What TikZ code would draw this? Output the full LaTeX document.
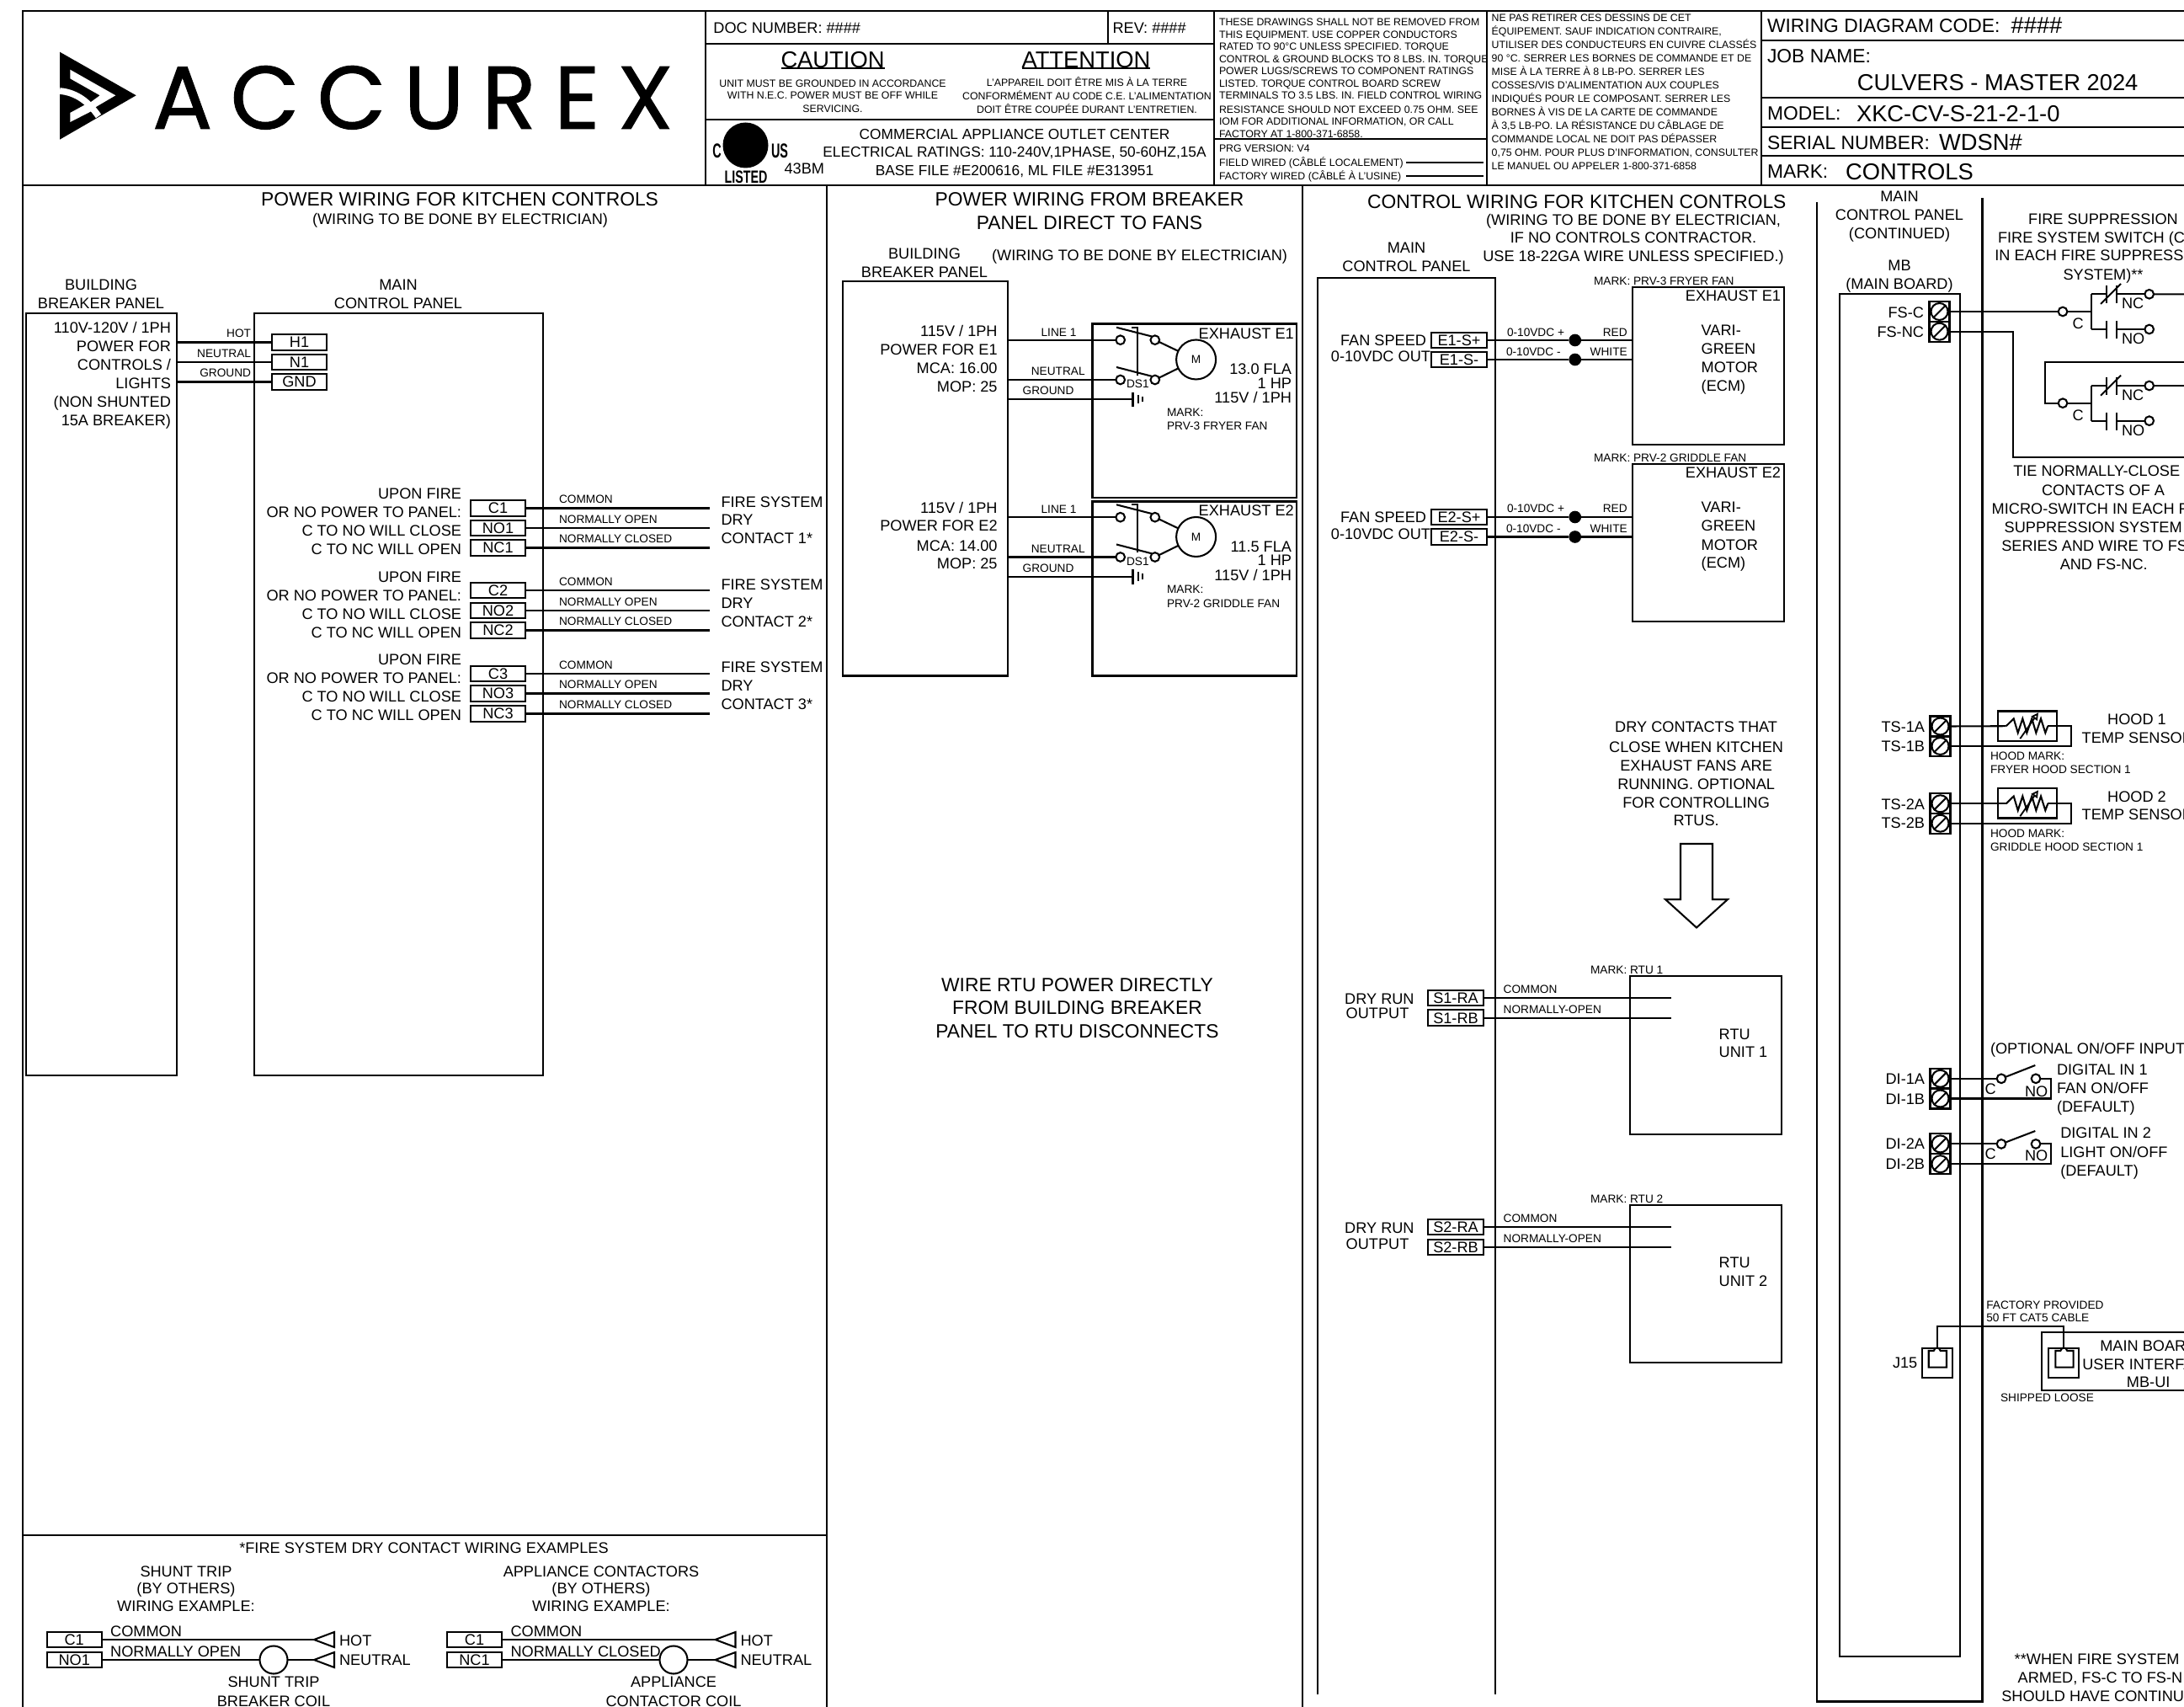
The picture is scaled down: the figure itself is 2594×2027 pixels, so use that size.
\documentclass[tikz,border=0pt]{standalone}
\usepackage{fontspec}
\setmainfont{Liberation Sans}
\newfontfamily\logofont{Poppins}[LetterSpace=20,FakeBold=0.9]
\usetikzlibrary{arrows.meta,calc}
\newcounter{tc}
\tikzset{
  base/.style={inner sep=0pt,outer sep=0pt},
  sz12/.style={base,font=\fontsize{3.7}{4}\selectfont,text height=2.65pt,text depth=0pt},
  sz13/.style={base,font=\fontsize{4.1}{5}\selectfont,text height=2.93pt,text depth=0pt},
  sz17/.style={base,font=\fontsize{5.2}{6}\selectfont,text height=3.75pt,text depth=0pt},
  sz18/.style={base,font=\fontsize{5.45}{6}\selectfont,text height=3.9pt,text depth=0pt},
  sz23/.style={base,font=\fontsize{6.85}{8}\selectfont,text height=4.9pt,text depth=0pt},
  sz27/.style={base,font=\fontsize{8.2}{9}\selectfont,text height=5.87pt,text depth=0pt},
  wire/.style={line width=0.62pt,line cap=butt},
  frame/.style={line width=0.78pt},
  boxst/.style={draw,line width=0.62pt,inner sep=0pt,outer sep=0pt},
  termbox/.style={sz18,draw,line width=0.62pt,minimum height=5.6pt},
  pin/.style={draw,circle,fill=white,line width=0.62pt,minimum size=3.2pt,inner sep=0pt,outer sep=0pt},
  dot/.style={fill=black,circle,minimum size=4.4pt,inner sep=0pt,outer sep=0pt},
  motor/.style={sz13,draw,circle,line width=0.62pt,minimum size=14.1pt},
  coil/.style={draw,circle,line width=0.62pt,minimum size=9.9pt,inner sep=0pt,outer sep=0pt},
  screw/.style={draw,line width=0.62pt,minimum size=7.2pt,inner sep=0pt,outer sep=0pt},
  logo/.style={inner sep=0pt,outer sep=0pt,font=\logofont\fontsize{31.8}{32}\selectfont,text height=22.2pt,text depth=0pt},
}
\newcommand\TC[4]{\stepcounter{tc}\node[sz#1,anchor=center] (t\arabic{tc}) at (#2,#3) {#4};}
\newcommand\TL[4]{\stepcounter{tc}\node[sz#1,anchor=west] (t\arabic{tc}) at (#2,#3) {#4};}
\newcommand\TR[4]{\stepcounter{tc}\node[sz#1,anchor=east] (t\arabic{tc}) at (#2,#3) {#4};}
\newcommand\Bx[5]{\pgfmathsetmacro\bw{(#4-#2)*0.3}\pgfmathsetmacro\bh{(#5-#3)*0.3}%
  \node[boxst,minimum width=\bw pt,minimum height=\bh pt] (#1) at ({(#2+#4)/2},{(#3+#5)/2}) {};}
\newcommand\Term[5]{\pgfmathsetmacro\bw{#4*0.3}\node[termbox,minimum width=\bw pt] (#1) at (#2,#3) {#5};}
\newcommand\Screw[3]{\node[screw] (#1) at (#2,#3) {};
  \draw[line width=0.62pt] (#1.center) circle [radius=3pt];
  \draw[line width=0.62pt] ([xshift=-2.3pt,yshift=-2.3pt]#1.center) -- ([xshift=2.3pt,yshift=2.3pt]#1.center);}
% contact block : prefix, y of C pin
\newcommand\Contact[2]{\begin{scope}[shift={(0,#2)}]
  \node[pin] (#1c) at (2450,0) {};
  \node[pin] (#1nc) at (2552.7,-20.7) {};
  \node[pin] (#1no) at (2552.7,21) {};
  \coordinate (#1f) at (2484,0);
  \draw[wire] (#1c) -- (#1f);
  \draw[wire] (2484,-20.7) -- (2484,21);
  \draw[wire] (2484,-20.7) -- (2501.7,-20.7) (2501.7,-31) -- (2501.7,-10);
  \draw[wire] (2514,-31) -- (2514,-10) (2514,-20.7) -- (#1nc);
  \draw[wire] (2495,-9) -- (2519,-33);
  \draw[wire] (2484,21) -- (2501.7,21) (2501.7,11) -- (2501.7,32);
  \draw[wire] (2514,11) -- (2514,32) (2514,21) -- (#1no);
  \TL{18}{2520}{-10}{NC}
  \TL{18}{2520}{32}{NO}
  \TL{18}{2461.7}{14}{C}
 \end{scope}}
% fan disconnect group
\newcommand\FanGroup[2]{\begin{scope}[shift={(0,#2)}]
  \node[pin] (#1a) at (1330.7,403.7) {};
  \node[pin] (#1b) at (1371.8,403.7) {};
  \node[pin] (#1c) at (1330.7,451) {};
  \node[pin] (#1d) at (1371.8,451) {};
  \node[motor] (#1m) at (1420.6,427) {M};
  \coordinate (#1g) at (1345.5,474.4);
  \draw[wire] (#1a.west -| brkb.east) -- (#1a);
  \draw[wire] (#1c.west -| brkb.east) -- (#1c);
  \draw[wire] (#1g -| brkb.east) -- (#1g);
  \draw[wire] (1326,388.8) -- (1368,399.5);
  \draw[wire] (1326,436) -- (1368,446.8);
  \draw[wire] (1344.4,388.8) -- (1351,388.8) -- (1351,445.8);
  \draw[wire] (#1b) -- (#1m);
  \draw[wire] (#1d) -- (#1m);
  \draw[wire] (1345.5,465.7) -- (1345.5,483.2);
  \draw[wire] (1352,469) -- (1352,479.3);
  \draw[wire] (1356.6,471) -- (1356.6,477.3);
  \TL{13}{1338}{455.7}{DS1}
  \TC{13}{1257.5}{394.5}{LINE 1}
  \TC{13}{1256.7}{441}{NEUTRAL}
  \TC{13}{1245}{464}{GROUND}
 \end{scope}}
\newcommand\Jack[1]{\begin{scope}[shift={(#1,0)}]
  \draw[wire] (8,1623.7) -- (8,1604) -- (14,1604) -- (16,1600.8) -- (20,1600.8) -- (22,1604) -- (29.3,1604) -- (29.3,1623.7) -- cycle;
 \end{scope}}
\newcommand\Resistor[1]{\begin{scope}[shift={(0,#1)}]
  \draw[wire] (2382.7,0) -- (2391.7,-8.8) -- (2396.7,8) -- (2402.3,-8.8) -- (2407.3,8) -- (2413.3,-8.8) -- (2418.3,8) -- (2424,-8.8) -- (2429.3,8) -- (2432.3,0);
  \draw[line width=0.55pt,-{Triangle[open,length=2.6pt,width=2.6pt]}] (2399.3,15) -- (2421,-16);
 \end{scope}}
\begin{document}
\begin{tikzpicture}[x=0.3pt,y=-0.3pt]
\useasboundingbox (0,0) rectangle (2594,2027);
\clip (0,0) rectangle (2594,2027);
% ---------- frame
\draw[frame] (27,2027) -- (27,13) -- (2594,13);
\draw[frame] (27,220) -- (2594,220);
\draw[frame] (838,13) -- (838,220);
\draw[frame] (1442,13) -- (1442,220);
\draw[frame] (1766,13) -- (1766,220);
\draw[frame] (2092,13) -- (2092,220);
\draw[frame] (838,52) -- (1442,52);
\draw[frame] (838,142) -- (1442,142);
\draw[frame] (1316,13) -- (1316,52);
\draw[frame] (1442,165) -- (1766,165);
\draw[frame] (2092,48) -- (2594,48);
\draw[frame] (2092,116) -- (2594,116);
\draw[frame] (2092,151) -- (2594,151);
\draw[frame] (2092,185) -- (2594,185);
\draw[frame] (982,220) -- (982,2027);
\draw[frame] (1547,220) -- (1547,2027);
\draw[frame] (27,1823) -- (982,1823);
% ---------- logo
\fill (71,61.7) -- (161.7,113.3) -- (71,165.7) -- cycle;
\fill[white] (83.3,82.7) -- (137.3,113.3) -- (111.7,128.3) -- (105,123.3) -- (118.7,113.3) -- (83.3,93.3) -- cycle;
\fill[white] (83.3,134) -- (101.7,124) -- (109.3,131.7) -- (83.3,145) -- cycle;
\draw[white,line width=2.3pt] (71,108) .. controls (92,110) and (106,122) .. (117,138);
\node[logo,anchor=west] (lg) at (181,116) {ACCUREX};
% ---------- title block
\TL{18}{847.4}{33}{DOC NUMBER: \#\#\#\#}
\TL{18}{1321.5}{33}{REV: \#\#\#\#}
\TC{27}{989}{70.7}{CAUTION}
\TC{27}{1290}{70.7}{ATTENTION}
\draw[wire] (t3.south west |- 0,81) -- (t3.south east |- 0,81);
\draw[wire] (t4.south west |- 0,81) -- (t4.south east |- 0,81);
\TC{12}{989}{98.7}{UNIT MUST BE GROUNDED IN ACCORDANCE}
\TC{12}{989}{113.5}{WITH N.E.C. POWER MUST BE OFF WHILE}
\TC{12}{989}{129}{SERVICING.}
\TC{12}{1291}{98}{L'APPAREIL DOIT ÊTRE MIS À LA TERRE}
\TC{12}{1291}{114}{CONFORMÉMENT AU CODE C.E. L'ALIMENTATION}
\TC{12}{1291}{130.5}{DOIT ÊTRE COUPÉE DURANT L'ENTRETIEN.}
\node[fill=black,circle,minimum size=16.2pt,inner sep=0pt] (ul) at (885.5,172.5) {};
\node[base,font=\bfseries\fontsize{7.2}{8}\selectfont,anchor=center] (ulc) at (851.6,179) {\scalebox{.6}[1]{C}};
\node[base,font=\bfseries\fontsize{7.2}{8}\selectfont,anchor=center] (uls) at (926,179) {\scalebox{.6}[1]{US}};
\node[base,font=\bfseries\fontsize{6.3}{7}\selectfont,anchor=center] (ull) at (886,210) {\scalebox{.68}[1]{LISTED}};
\TL{18}{931.6}{200}{43BM}
\TC{17}{1205}{159.6}{COMMERCIAL APPLIANCE OUTLET CENTER}
\TC{17}{1205}{180}{ELECTRICAL RATINGS: 110-240V,1PHASE, 50-60HZ,15A}
\TC{17}{1205}{201.8}{BASE FILE \#E200616, ML FILE \#E313951}
\TL{12}{1448}{26.3}{THESE DRAWINGS SHALL NOT BE REMOVED FROM}
\TL{12}{1448}{40.8}{THIS EQUIPMENT. USE COPPER CONDUCTORS}
\TL{12}{1448}{55.3}{RATED TO 90°C UNLESS SPECIFIED. TORQUE}
\TL{12}{1448}{69.8}{CONTROL \& GROUND BLOCKS TO 8 LBS. IN. TORQUE}
\TL{12}{1448}{84.3}{POWER LUGS/SCREWS TO COMPONENT RATINGS}
\TL{12}{1448}{99}{LISTED. TORQUE CONTROL BOARD SCREW}
\TL{12}{1448}{113.5}{TERMINALS TO 3.5 LBS. IN. FIELD CONTROL WIRING}
\TL{12}{1448}{129.7}{RESISTANCE SHOULD NOT EXCEED 0.75 OHM. SEE}
\TL{12}{1448}{143.7}{IOM FOR ADDITIONAL INFORMATION, OR CALL}
\TL{12}{1448}{159}{FACTORY AT 1-800-371-6858.}
\TL{12}{1448}{175.7}{PRG VERSION: V4}
\TL{12}{1448}{193.3}{FIELD WIRED (CÂBLÉ LOCALEMENT)}
\TL{12}{1448}{209}{FACTORY WIRED (CÂBLÉ À L'USINE)}
\coordinate (fw) at (1762,193.3); \coordinate (fa) at (1762,209);
\coordinate (fws) at (1670,193.3); \coordinate (fas) at (1670,209);
\draw[wire] (fws) -- (fw);
\draw[wire] (fas) -- (fa);
\TL{12}{1771.7}{20.7}{NE PAS RETIRER CES DESSINS DE CET}
\TL{12}{1771.7}{36.8}{ÉQUIPEMENT. SAUF INDICATION CONTRAIRE,}
\TL{12}{1771.7}{52.8}{UTILISER DES CONDUCTEURS EN CUIVRE CLASSÉS}
\TL{12}{1771.7}{68.9}{90 °C. SERRER LES BORNES DE COMMANDE ET DE}
\TL{12}{1771.7}{84.9}{MISE À LA TERRE À 8 LB-PO. SERRER LES}
\TL{12}{1771.7}{101}{COSSES/VIS D'ALIMENTATION AUX COUPLES}
\TL{12}{1771.7}{117}{INDIQUÉS POUR LE COMPOSANT. SERRER LES}
\TL{12}{1771.7}{133}{BORNES À VIS DE LA CARTE DE COMMANDE}
\TL{12}{1771.7}{149.1}{À 3,5 LB-PO. LA RÉSISTANCE DU CÂBLAGE DE}
\TL{12}{1771.7}{165.2}{COMMANDE LOCAL NE DOIT PAS DÉPASSER}
\TL{12}{1771.7}{181.2}{0,75 OHM. POUR PLUS D'INFORMATION, CONSULTER}
\TL{12}{1771.7}{197.3}{LE MANUEL OU APPELER 1-800-371-6858}
\TL{23}{2099}{30}{WIRING DIAGRAM CODE:}
\TL{27}{2388.6}{30}{\#\#\#\#}
\TL{23}{2099}{66}{JOB NAME:}
\TC{27}{2372.6}{97.6}{CULVERS - MASTER 2024}
\TL{23}{2099}{134.5}{MODEL:}
\TL{27}{2205}{134.5}{XKC-CV-S-21-2-1-0}
\TL{23}{2099}{169}{SERIAL NUMBER:}
\TL{27}{2303}{169}{WDSN\#}
\TL{23}{2099}{203.3}{MARK:}
\TL{27}{2192}{203.3}{CONTROLS}
% ---------- panel 1
\TC{23}{546}{236}{POWER WIRING FOR KITCHEN CONTROLS}
\TC{18}{546.5}{260}{(WIRING TO BE DONE BY ELECTRICIAN)}
\TC{18}{120}{338}{BUILDING}
\TC{18}{120}{360}{BREAKER PANEL}
\TC{18}{473}{338}{MAIN}
\TC{18}{473}{360}{CONTROL PANEL}
\Bx{brka}{30.6}{372}{210}{1277}
\Bx{mcp}{302}{372}{645}{1277}
\TR{18}{203}{389}{110V-120V / 1PH}
\TR{18}{203}{411}{POWER FOR}
\TR{18}{203}{433}{CONTROLS /}
\TR{18}{203}{455}{LIGHTS}
\TR{18}{203}{477}{(NON SHUNTED}
\TR{18}{203}{499}{15A BREAKER)}
\Term{H1}{355.5}{406.5}{65}{H1}
\Term{N1}{355.5}{430}{65}{N1}
\Term{GND}{355.5}{453.5}{65}{GND}
\foreach \n in {H1,N1,GND}{\draw[wire] (\n.west -| brka.east) -- (\n.west);}
\TR{13}{298}{396}{HOT}
\TR{13}{298}{420}{NEUTRAL}
\TR{13}{298}{443}{GROUND}
\foreach \i/\a/\b/\c/\t/\ua/\ub/\uc/\ud/\la/\lb/\lc/\fa/\fb/\fc in {
  1/603.5/627/650.5/C1/586/608/630/652/593/617/640/596/617/639,
  2/701/725/748.5/C2/685/707/729/751/691/715/738/694/716/738,
  3/800/823.5/847.5/C3/783/805/827/849/790/813/837/792/814/836}{
  \Term{C\i}{591.5}{\a}{65}{C\i}
  \Term{NO\i}{591.5}{\b}{65}{NO\i}
  \Term{NC\i}{591.5}{\c}{65}{NC\i}
  \coordinate (ca\i) at (843,\a); \coordinate (cb\i) at (843,\b); \coordinate (cc\i) at (843,\c);
  \draw[wire] (C\i.east) -- (ca\i);
  \draw[wire] (NO\i.east) -- (cb\i);
  \draw[wire] (NC\i.east) -- (cc\i);
  \TR{18}{548}{\ua}{UPON FIRE}
  \TR{18}{548}{\ub}{OR NO POWER TO PANEL:}
  \TR{18}{548}{\uc}{C TO NO WILL CLOSE}
  \TR{18}{548}{\ud}{C TO NC WILL OPEN}
  \TL{13}{664}{\la}{COMMON}
  \TL{13}{664}{\lb}{NORMALLY OPEN}
  \TL{13}{664}{\lc}{NORMALLY CLOSED}
  \TL{18}{856.5}{\fa}{FIRE SYSTEM}
  \TL{18}{856.5}{\fb}{DRY}
  \TL{18}{856.5}{\fc}{CONTACT \i*}
}
% examples
\TC{18}{503.5}{1838}{*FIRE SYSTEM DRY CONTACT WIRING EXAMPLES}
\TC{18}{221}{1866}{SHUNT TRIP}
\TC{18}{221}{1886}{(BY OTHERS)}
\TC{18}{221}{1907}{WIRING EXAMPLE:}
\TC{18}{714}{1866}{APPLIANCE CONTACTORS}
\TC{18}{714}{1886}{(BY OTHERS)}
\TC{18}{714}{1907}{WIRING EXAMPLE:}
\foreach \p/\xa/\xc/\xt/\nm/\cm/\cl/\cln in {
  a/88.2/325/373/NO1/NORMALLY OPEN/SHUNT TRIP/BREAKER COIL,
  b/563.5/800/849.5/NC1/NORMALLY CLOSED/APPLIANCE/CONTACTOR COIL}{
  \pgfmathsetmacro\xb{\xt+24}\pgfmathsetmacro\xl{\xt+30}\pgfmathsetmacro\xcm{\xa+43}
  \Term{\p c}{\xa}{1947}{65}{C1}
  \Term{\p n}{\xa}{1971}{65}{\nm}
  \coordinate (\p h) at (\xt,1947); \coordinate (\p u) at (\xt,1971);
  \node[coil] (\p k) at (\xc,1971) {};
  \draw[wire] (\p c.east) -- (\p h);
  \draw[wire] (\p n.east) -- (\p k);
  \draw[wire] (\p k) -- (\p u);
  \draw[wire] (\p h) -- (\xb,1938) -- (\xb,1956) -- cycle;
  \draw[wire] (\p u) -- (\xb,1962) -- (\xb,1980) -- cycle;
  \TL{18}{\xl}{1948}{HOT}
  \TL{18}{\xl}{1971}{NEUTRAL}
  \TL{18}{\xcm}{1937}{COMMON}
  \TL{18}{\xcm}{1961}{\cm}
  \TC{18}{\xc}{1997}{\cl}
  \TC{18}{\xc}{2020}{\cln}
}
% ---------- panel 2
\TC{23}{1294}{236.5}{POWER WIRING FROM BREAKER}
\TC{23}{1294}{264}{PANEL DIRECT TO FANS}
\TC{18}{1353.5}{303}{(WIRING TO BE DONE BY ELECTRICIAN)}
\TC{18}{1098}{301.5}{BUILDING}
\TC{18}{1098}{323}{BREAKER PANEL}
\Bx{brkb}{1001}{334}{1197}{802.5}
\Bx{exa}{1297.5}{384.5}{1540}{591}
\Bx{exb}{1297.5}{595.5}{1540}{802.5}
\FanGroup{fa}{0}
\FanGroup{fb}{210.5}
\TR{18}{1184.6}{392.6}{115V / 1PH}
\TR{18}{1184.6}{415}{POWER FOR E1}
\TR{18}{1184.6}{437}{MCA: 16.00}
\TR{18}{1184.6}{459}{MOP: 25}
\TR{18}{1184.6}{603}{115V / 1PH}
\TR{18}{1184.6}{624.5}{POWER FOR E2}
\TR{18}{1184.6}{648}{MCA: 14.00}
\TR{18}{1184.6}{669}{MOP: 25}
\TR{18}{1536.8}{396}{EXHAUST E1}
\TR{18}{1534}{438}{13.0 FLA}
\TR{18}{1534}{455}{1 HP}
\TR{18}{1534}{472}{115V / 1PH}
\TL{13}{1386}{490}{MARK:}
\TL{13}{1386}{506}{PRV-3 FRYER FAN}
\TR{18}{1536.8}{606}{EXHAUST E2}
\TR{18}{1534}{648.6}{11.5 FLA}
\TR{18}{1534}{665}{1 HP}
\TR{18}{1534}{682.7}{115V / 1PH}
\TL{13}{1386}{700}{MARK:}
\TL{13}{1386}{717}{PRV-2 GRIDDLE FAN}
\TC{23}{1279.5}{1169.5}{WIRE RTU POWER DIRECTLY}
\TC{23}{1279.5}{1196.5}{FROM BUILDING BREAKER}
\TC{23}{1279.5}{1224}{PANEL TO RTU DISCONNECTS}
% ---------- panel 3
\TC{23}{1872.8}{239}{CONTROL WIRING FOR KITCHEN CONTROLS}
\TC{18}{1940}{260.7}{(WIRING TO BE DONE BY ELECTRICIAN,}
\TC{18}{1940}{282}{IF NO CONTROLS CONTRACTOR.}
\TC{18}{1940}{304.5}{USE 18-22GA WIRE UNLESS SPECIFIED.)}
\TC{18}{1670.5}{294}{MAIN}
\TC{18}{1670.5}{316.5}{CONTROL PANEL}
\draw[wire] (1565.4,2012) -- (1565.4,330) -- (1776,330) -- (1776,2012);
\Bx{mxa}{1939}{340.7}{2118.7}{527.6}
\Bx{mxb}{1939}{551}{2118.7}{738}
\foreach \e/\a/\b/\mx/\pm in {1/404/427/mxa/a,2/614/637.5/mxb/b}{
  \Term{E\e p}{1733}{\a}{66}{E\e-S+}
  \Term{E\e m}{1733}{\b}{66}{E\e-S-}
  \node[dot] (dp\e) at (1870.7,\a) {};
  \node[dot] (dm\e) at (1870.7,\b) {};
  \draw[wire] (E\e p.east) -- (dp\e);
  \draw[wire] (E\e m.east) -- (dm\e);
  \draw[wire] (dp\e) -- (dp\e -| \mx.west);
  \draw[wire] (dm\e) -- (dm\e -| \mx.west);
}
\TR{18}{1694}{404}{FAN SPEED}
\TR{18}{1699}{423.5}{0-10VDC OUT}
\TR{18}{1694}{614}{FAN SPEED}
\TR{18}{1699}{634}{0-10VDC OUT}
\TL{13}{1790}{395}{0-10VDC +}
\TL{13}{1789}{418}{0-10VDC -}
\TL{13}{1790}{604}{0-10VDC +}
\TL{13}{1789}{628}{0-10VDC -}
\TR{13}{1932.7}{395}{RED}
\TR{13}{1932.7}{417.6}{WHITE}
\TR{13}{1932.7}{604}{RED}
\TR{13}{1932.7}{627.6}{WHITE}
\TL{13}{1893}{333.5}{MARK: PRV-3 FRYER FAN}
\TL{13}{1893}{543.5}{MARK: PRV-2 GRIDDLE FAN}
\TR{18}{2115}{350.7}{EXHAUST E1}
\TR{18}{2115}{561}{EXHAUST E2}
\TL{18}{2020.7}{392}{VARI-}
\TL{18}{2020.7}{414}{GREEN}
\TL{18}{2020.7}{436}{MOTOR}
\TL{18}{2020.7}{458}{(ECM)}
\TL{18}{2020.7}{602}{VARI-}
\TL{18}{2020.7}{624}{GREEN}
\TL{18}{2020.7}{646.6}{MOTOR}
\TL{18}{2020.7}{668}{(ECM)}
\TC{18}{2014.6}{863}{DRY CONTACTS THAT}
\TC{18}{2014.6}{887}{CLOSE WHEN KITCHEN}
\TC{18}{2014.6}{909}{EXHAUST FANS ARE}
\TC{18}{2014.6}{931}{RUNNING. OPTIONAL}
\TC{18}{2014.6}{953}{FOR CONTROLLING}
\TC{18}{2014.6}{974}{RTUS.}
\draw[wire] (1996,1002) -- (2034,1002) -- (2034,1068) -- (2052,1068) -- (2015,1101.5) -- (1978,1068) -- (1996,1068) -- cycle;
\Bx{rtua}{1936}{1159}{2116.4}{1347}
\Bx{rtub}{1936}{1431}{2116.4}{1618}
\foreach \s/\a/\b/\ya/\yb/\yc/\yd/\ye/\yf/\yg in {
  1/1185/1208.7/1152/1185.7/1203/1175/1199/1227.7/1249,
  2/1457/1481/1424/1458/1477/1447/1471/1499/1521}{
  \Term{S\s a}{1729}{\a}{66}{S\s-RA}
  \Term{S\s b}{1729}{\b}{66}{S\s-RB}
  \coordinate (sa\s) at (1985,\a); \coordinate (sb\s) at (1985,\b);
  \draw[wire] (S\s a.east) -- (sa\s);
  \draw[wire] (S\s b.east) -- (sb\s);
  \TL{13}{1889}{\ya}{MARK: RTU \s}
  \TC{18}{1638.4}{\yb}{DRY RUN}
  \TC{18}{1636}{\yc}{OUTPUT}
  \TL{13}{1785.7}{\yd}{COMMON}
  \TL{13}{1785.7}{\ye}{NORMALLY-OPEN}
  \TL{18}{2041.7}{\yf}{RTU}
  \TL{18}{2041.7}{\yg}{UNIT \s}
}
% ---------- panel 4
\TC{18}{2256}{232.7}{MAIN}
\TC{18}{2256}{254.7}{CONTROL PANEL}
\TC{18}{2256}{276.7}{(CONTINUED)}
\TC{18}{2256}{314.7}{MB}
\TC{18}{2256}{336.7}{(MAIN BOARD)}
\draw[wire] (2157.7,240) -- (2157.7,2020.5) -- (2354.5,2020.5) -- (2354.5,235);
\draw[wire] (2184.7,349) -- (2327.7,349) -- (2327.7,1967) -- (2184.7,1967) -- cycle;
\TC{18}{2498}{259.7}{FIRE SUPPRESSION}
\TL{18}{2373}{281.7}{FIRE SYSTEM SWITCH (C}
\TL{18}{2369.3}{303.3}{IN EACH FIRE SUPPRESS}
\TC{18}{2498}{326}{SYSTEM)**}
\Screw{fsc}{2303.5}{370}
\Screw{fsn}{2303.5}{393.7}
\TR{18}{2285}{370.7}{FS-C}
\TR{18}{2285}{393.7}{FS-NC}
\Contact{ka}{370}
\Contact{kb}{478.7}
\coordinate (e1) at (2594,349.3); \coordinate (e2) at (2594,458);
\coordinate (e3) at (2594,430.3); \coordinate (e4) at (2594,543.3);
\coordinate (j1) at (2391.3,393.7); \coordinate (j2) at (2428.7,430.3);
\draw[wire] (fsc.east) -- (kac);
\draw[wire] (kanc) -- (e1);
\draw[wire] (kbnc) -- (e2);
\draw[wire] (kbc) -- (j2 |- kbc) -- (j2) -- (e3);
\draw[wire] (fsn.east) -- (j1) -- (j1 |- e4) -- (e4);
\TL{18}{2391.3}{559.3}{TIE NORMALLY-CLOSE}
\TC{18}{2498}{581.7}{CONTACTS OF A}
\TL{18}{2365.7}{603.7}{MICRO-SWITCH IN EACH F}
\TL{18}{2380.7}{625.7}{SUPPRESSION SYSTEM}
\TL{18}{2377.3}{647.7}{SERIES AND WIRE TO FS}
\TC{18}{2498.7}{669.7}{AND FS-NC.}
% temp sensors
\foreach \k/\ya/\yb/\yr/\ta/\tb/\ra/\rb/\hy/\hz/\my/\mz/\mt in {
  1/862.5/886/862.2/862.9/886/844.5/879.7/853.7/875.5/898/914/FRYER HOOD SECTION 1,
  2/954.3/977.7/954.3/954.7/977.3/936.3/971.5/945.5/967.3/990/1006/GRIDDLE HOOD SECTION 1}{
  \Screw{tsa\k}{2304.5}{\ya}
  \Screw{tsb\k}{2304.5}{\yb}
  \TR{18}{2286}{\ta}{TS-\k A}
  \TR{18}{2286}{\tb}{TS-\k B}
  \Bx{rb\k}{2372.7}{\ra}{2443}{\rb}
  \Resistor{\yr}
  \coordinate (ra\k) at (2382.7,\yr); \coordinate (rc\k) at (2432.3,\yr);
  \coordinate (rd\k) at (2460,\yr);
  \draw[wire] (tsa\k.east) -- (ra\k);
  \draw[wire] (rc\k) -- (rd\k) -- (rd\k |- tsb\k) -- (tsb\k.east);
  \TC{18}{2538}{\hy}{HOOD \k}
  \TL{18}{2472.7}{\hz}{TEMP SENSOR}
  \TL{13}{2364}{\my}{HOOD MARK:}
  \TL{13}{2364}{\mz}{\mt}
}
% digital inputs
\TL{18}{2364}{1244.8}{(OPTIONAL ON/OFF INPUT}
\foreach \k/\ya/\yb/\yu/\tc/\tn in {1/1280.8/1304.5/1265/1293.4/1295.7,2/1358.4/1382.2/1343/1370/1372}{
  \Screw{dia\k}{2304.5}{\ya}
  \Screw{dib\k}{2304.5}{\yb}
  \TR{18}{2286}{\ya}{DI-\k A}
  \TR{18}{2286}{\yb}{DI-\k B}
  \node[pin] (dc\k) at (2377,\ya) {};
  \node[pin] (dn\k) at (2418,\ya) {};
  \coordinate (bl\k) at (2417.3,\yu);
  \coordinate (dr\k) at (2436.3,\ya);
  \draw[wire] (dia\k.east) -- (dc\k);
  \draw[wire] (dc\k) -- (bl\k);
  \draw[wire] (dn\k) -- (dr\k) -- (dr\k |- dib\k) -- (dib\k.east);
  \TL{18}{2357.7}{\tc}{C}
  \TL{18}{2405}{\tn}{NO}
}
\TL{18}{2443}{1270.4}{DIGITAL IN 1}
\TL{18}{2443}{1292.3}{FAN ON/OFF}
\TL{18}{2443}{1314.4}{(DEFAULT)}
\TL{18}{2447.3}{1345.4}{DIGITAL IN 2}
\TL{18}{2447.3}{1367.6}{LIGHT ON/OFF}
\TL{18}{2447.3}{1389.5}{(DEFAULT)}
% jacks
\TL{13}{2359.3}{1549.4}{FACTORY PROVIDED}
\TL{13}{2359.3}{1565}{50 FT CAT5 CABLE}
\Bx{jka}{2282.7}{1600.8}{2318.7}{1636}
\Bx{jkb}{2433.3}{1600.8}{2469.3}{1636}
\Bx{ui}{2424.7}{1581.7}{2620}{1651.3}
\Jack{2282.7}
\Jack{2433.3}
\TR{18}{2277.3}{1617.6}{J15}
\draw[wire] (jka.north) -- (jka.north |- 0,1575) -- (jkb.north |- 0,1575) -- (jkb.north);
\TL{18}{2494.3}{1598}{MAIN BOARD}
\TL{18}{2473.3}{1619.7}{USER INTERFACE}
\TC{18}{2551.7}{1641}{MB-UI}
\TL{13}{2376}{1660}{SHIPPED LOOSE}
\TL{18}{2392.7}{1970}{**WHEN FIRE SYSTEM}
\TL{18}{2396.7}{1992}{ARMED, FS-C TO FS-N}
\TL{18}{2377.3}{2013.6}{SHOULD HAVE CONTINU}
\end{tikzpicture}
\end{document}
